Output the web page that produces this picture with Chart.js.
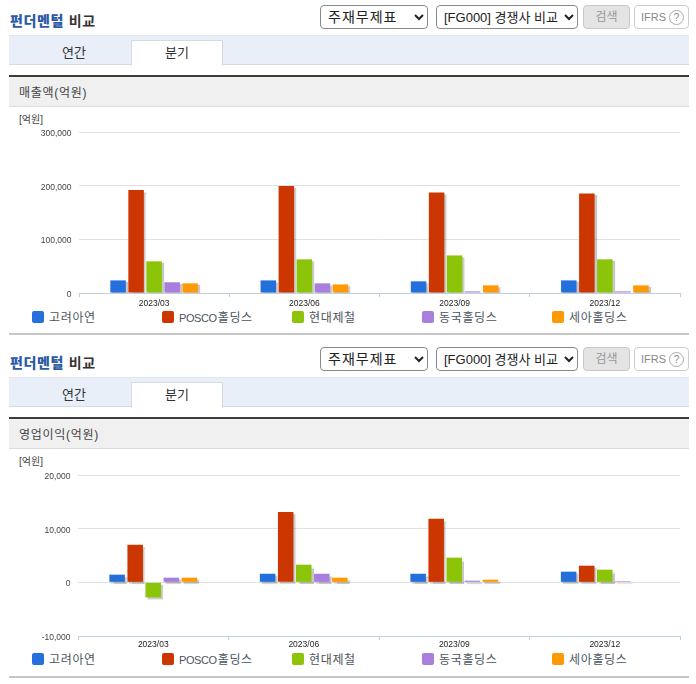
<!DOCTYPE html>
<html lang="ko"><head><meta charset="utf-8">
<script src="https://cdn.jsdelivr.net/npm/chart.js@4/dist/chart.umd.min.js"></script>
<style>
html,body{margin:0;padding:0;background:#fff;overflow:hidden}
body{width:696px;height:684px;position:relative;font-family:"Liberation Sans","Noto Sans CJK KR",sans-serif;color:#333}
.a{position:absolute;box-sizing:border-box}
.title{left:10px;font-size:14px;font-weight:bold;line-height:20px;color:#333;letter-spacing:.65px;white-space:nowrap}
.title b{color:#2c5aa6}
select{position:absolute;box-sizing:border-box;height:24px;top:0;font:13px "Liberation Sans","Noto Sans CJK KR",sans-serif;color:#222;background:#fff;border:1px solid #8a8a8a;border-radius:4px;padding-left:3px}
.btn{height:24px;border-radius:4px;text-align:center;line-height:22px;font-size:12px}
.tabs{left:9px;width:680px;height:30px;background:#e8eff8;border-bottom:1px solid #d3dbe6;border-top:1px solid #dfe6ef}
.tab{font-size:13px;text-align:center;line-height:24px;color:#333}
.bar{left:9px;width:680px;height:32px;border-top:2px solid #3c3c3c;border-bottom:1px solid #dcdcdc;background:#f0f0f0;font-size:12px;line-height:32px;padding-left:10px;letter-spacing:.7px;color:#444}
.unit{left:19px;font-size:10px;line-height:12px;color:#444}
.rule{left:9px;width:680px;height:2px;background:#c6c6c6}
.lg{font-size:12px;line-height:16px;color:#4a5560;letter-spacing:.65px;white-space:nowrap}
.lg span{font-size:11px;letter-spacing:-.4px;margin-right:1px}
.sw{width:12px;height:12px;border-radius:2px}
canvas{position:absolute;display:block}
</style></head><body>
<div id="root"></div>
<script>
const categories = ["2023/03", "2023/06", "2023/09", "2023/12"];
const seriesNames = ["고려아연", "POSCO홀딩스", "현대제철", "동국홀딩스", "세아홀딩스"];
const seriesColors = ["#236fdc", "#cc3600", "#8cc40a", "#a87fdc", "#ff9a05"];
const revKorea = [23500, 23500, 21700, 23500];
const revPosco = [192000, 199500, 187500, 185500];
const revHyundai = [59000, 62700, 70000, 62700];
const revDongkuk = [20000, 18000, 3000, 3000];
const revSeah = [18000, 16000, 14300, 14300];
const opKorea = [1430, 1600, 1600, 1990];
const opPosco = [7000, 13100, 11850, 3100];
const opHyundai = [-2800, 3290, 4600, 2360];
const opDongkuk = [870, 1600, 310, 200];
const opSeah = [870, 870, 500, 0];
const revTicks = [0, 100000, 200000, 300000];
const opTicks = [-10000, 0, 10000, 20000];
const sectionTitles = ["매출액(억원)", "영업이익(억원)"];

const root = document.getElementById('root');
function el(cls, css, html, parent){
  const d = document.createElement('div');
  d.className = 'a ' + cls; d.style.cssText = css; if(html) d.innerHTML = html;
  (parent||root).appendChild(d); return d;
}
function section(top, chartTop, name, id){
  el('title', `top:${top+11}px`, '<b>펀더멘털</b> 비교');
  const s1 = document.createElement('select'); s1.style.cssText=`left:320px;top:${top+5}px;width:108px;font-size:14px;letter-spacing:1px`;
  s1.innerHTML='<option>주재무제표</option>'; root.appendChild(s1);
  const s2 = document.createElement('select'); s2.style.cssText=`left:436px;top:${top+5}px;width:142px`;
  s2.innerHTML='<option>[FG000] 경쟁사 비교</option>'; root.appendChild(s2);
  el('btn', `left:583px;top:${top+5}px;width:47px;background:#e4e4e4;border:1px solid #c8c8c8;color:#999`, '검색');
  el('btn', `left:634px;top:${top+5}px;width:55px;background:#fff;border:1px solid #ccc;color:#888;font-size:11px;text-align:left;padding-left:6px`,
     'IFRS <span style="display:inline-block;width:15px;height:15px;line-height:14px;border:1px solid #aaa;border-radius:50%;text-align:center;font-size:10px;box-sizing:border-box">?</span>');
  el('tabs', `top:${top+35}px`);
  el('tab', `left:9px;top:${top+41}px;width:130px`, '연간');
  el('tab', `left:131px;top:${top+40}px;width:92px;height:26px;background:#fff;border:1px solid #d3dbe6;border-bottom:none`, '분기');
  el('bar', `top:${top+75}px`, name);
  el('unit', `top:${top+114}px`, '[억원]');
  const xs = [32,162,292,422,552];
  seriesNames.forEach((n,i)=>{
    el('sw', `left:${xs[i]}px;top:${top+311}px;background:${seriesColors[i]}`);
    el('lg', `left:${xs[i]+17}px;top:${top+310}px`, n.replace(/[A-Z]+/, '<span>$&</span>'));
  });
  el('rule', `top:${chartTop+201}px`);
  const c = document.createElement('canvas');
  c.id = id; c.width = 680; c.height = 200;
  c.style.cssText = `left:10px;top:${chartTop-22}px;width:680px;height:200px`;
  root.appendChild(c);
  return c;
}
const shadow = {
  id:'barShadow',
  beforeDatasetsDraw(ch){ const x=ch.ctx; x.save(); x.shadowColor='rgba(0,0,0,0.22)'; x.shadowOffsetX=2; x.shadowOffsetY=2; x.shadowBlur=1; },
  afterDatasetsDraw(ch){ ch.ctx.restore(); }
};
function draw(canvas, rows, ticks, yWidth, xPad){
  new Chart(canvas, {
    type:'bar',
    data:{labels:categories, datasets:rows.map((d,i)=>({label:seriesNames[i], data:d, backgroundColor:seriesColors[i], borderWidth:0,
      categoryPercentage:0.6, barPercentage:0.86}))},
    plugins:[shadow],
    options:{
      responsive:false, maintainAspectRatio:false, animation:false, devicePixelRatio:1,
      layout:{padding:{top:22,right:10,left:0,bottom:0}},
      plugins:{legend:{display:false}, title:{display:false}, tooltip:{enabled:false}},
      scales:{
        x:{
          afterFit(s){ s.height=17; },
          grid:{display:true, offset:true, drawOnChartArea:false, drawTicks:true, tickLength:4, color:'#c0d0e0'},
          border:{display:true, color:'#c0d0e0'},
          ticks:{color:'#222', font:{size:8.5,family:'"Liberation Sans"'}, padding:xPad, maxRotation:0}
        },
        y:{
          min:ticks[0], max:ticks[ticks.length-1],
          afterFit(s){ s.width=yWidth; },
          afterBuildTicks(s){ s.ticks = ticks.map(v=>({value:v})); },
          grid:{drawTicks:false, color:'#e2e2e2'},
          border:{display:false},
          ticks:{color:'#444', padding:7.5, labelOffset:1.5, font:{size:8.5,family:'"Liberation Sans"'},
            callback:v=>v.toLocaleString('en-US')}
        }
      }
    }
  });
}
const c1 = section(0, 132, sectionTitles[0], 'c1');
const c2 = section(342, 475, sectionTitles[1], 'c2');
draw(c1, [revKorea, revPosco, revHyundai, revDongkuk, revSeah], revTicks, 69, 2);
draw(c2, [opKorea, opPosco, opHyundai, opDongkuk, opSeah], opTicks, 68, 0);
</script>
</body></html>
